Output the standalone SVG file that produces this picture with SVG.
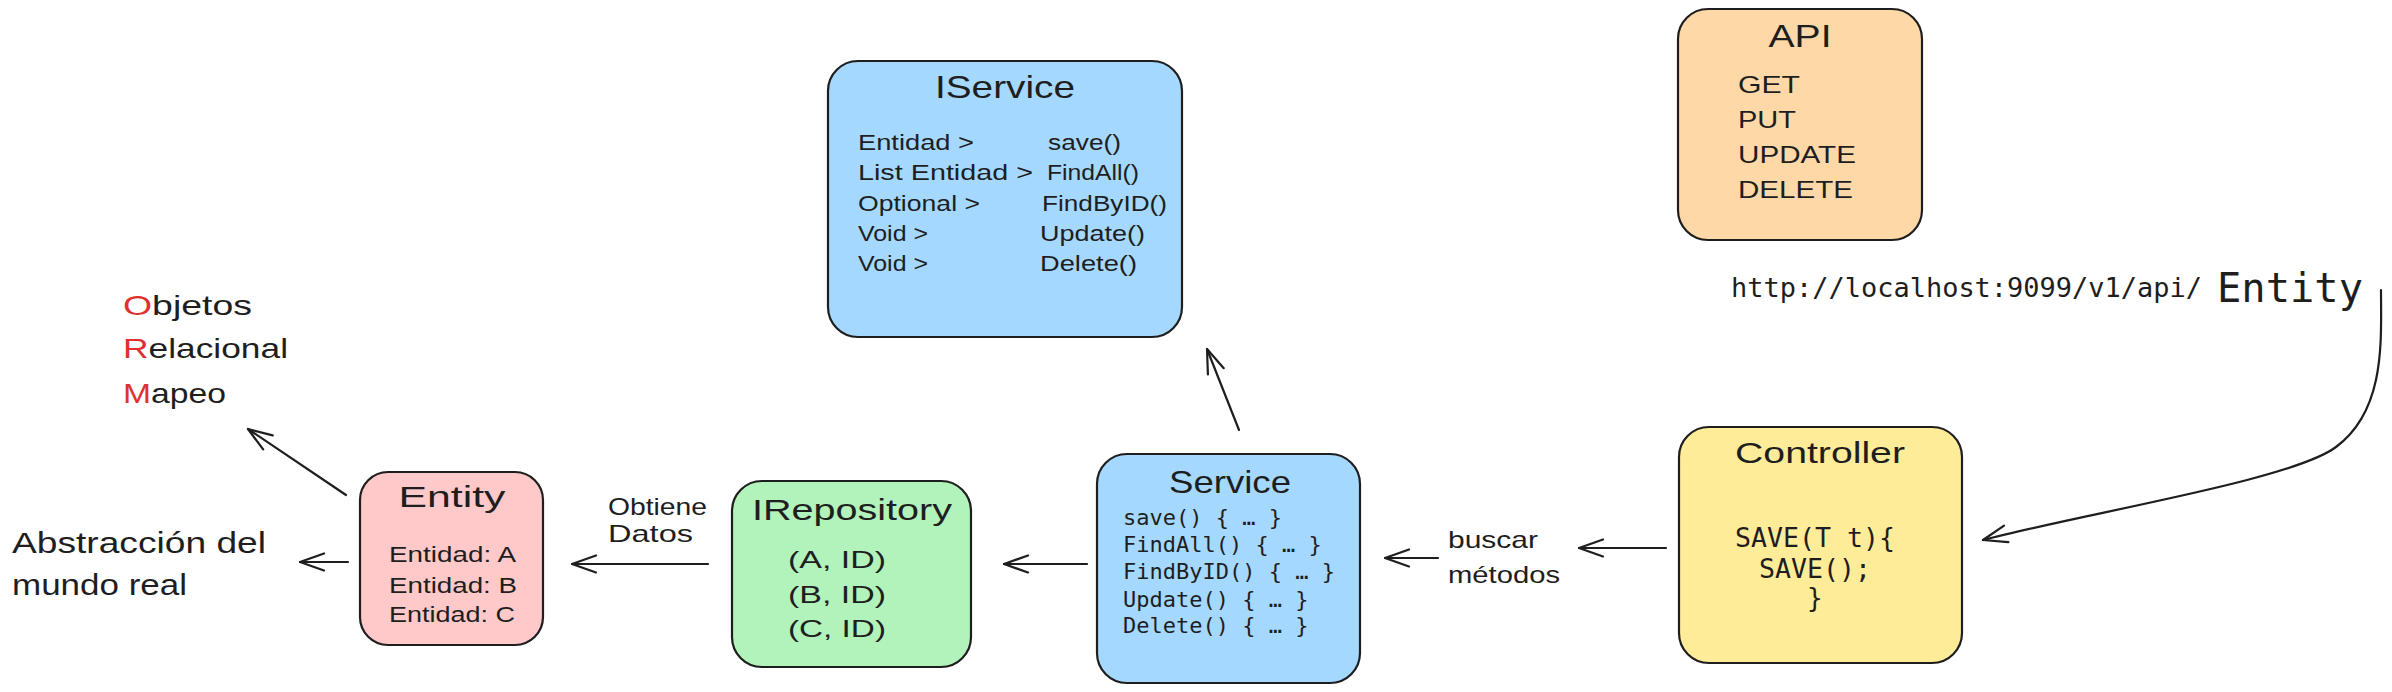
<svg xmlns="http://www.w3.org/2000/svg" width="2392" height="692" viewBox="0 0 2392 692">
<style>
.box{stroke:#1e1e1e;stroke-width:2.2}
.h{font-family:"Liberation Sans","DejaVu Sans",sans-serif;fill:#1e1e1e}
.m{font-family:"DejaVu Sans Mono","Liberation Mono",monospace;fill:#1e1e1e}
.red{fill:#e03131}
.c{stroke:#1e1e1e;stroke-width:2.2;fill:none;stroke-linecap:round;marker-end:url(#ah)}
</style>
<defs>
<marker id="ah" markerUnits="userSpaceOnUse" viewBox="0 0 28 20" refX="25" refY="10" markerWidth="28" markerHeight="20" orient="auto" overflow="visible">
<path d="M1,1.5 L25,10 L1,18.5" fill="none" stroke="#1e1e1e" stroke-width="2.2" stroke-linecap="round" stroke-linejoin="round"/>
</marker>
</defs>
<rect width="2392" height="692" fill="#ffffff"/>

<g id="connectors">
<path class="c" d="M2381,290 C2381,340 2386,410 2336,447 C2292,480 2090,512 1983,540"/>
<path class="c" d="M1666,548 L1579,548"/>
<path class="c" d="M1438,558 L1385,558"/>
<path class="c" d="M1239,430 L1207,349"/>
<path class="c" d="M1087,564 L1004,564"/>
<path class="c" d="M708,564 L572,564"/>
<path class="c" d="M346,495 L248,429"/>
<path class="c" d="M348,562 L300,562"/>
</g>

<g id="iservice">
<rect class="box" x="828" y="61" width="354" height="276" rx="30" fill="#a5d8ff"/>
<text class="h" x="1005" y="98" font-size="32" text-anchor="middle" textLength="140" lengthAdjust="spacingAndGlyphs">IService</text>
<g font-size="22">
<text class="h" x="858" y="150" textLength="116" lengthAdjust="spacingAndGlyphs">Entidad &gt;</text>
<text class="h" x="858" y="180" textLength="175" lengthAdjust="spacingAndGlyphs">List Entidad &gt;</text>
<text class="h" x="858" y="211" textLength="122" lengthAdjust="spacingAndGlyphs">Optional &gt;</text>
<text class="h" x="858" y="241" textLength="70" lengthAdjust="spacingAndGlyphs">Void &gt;</text>
<text class="h" x="858" y="271" textLength="70" lengthAdjust="spacingAndGlyphs">Void &gt;</text>
<text class="h" x="1048" y="150" textLength="73" lengthAdjust="spacingAndGlyphs">save()</text>
<text class="h" x="1047" y="180" textLength="92" lengthAdjust="spacingAndGlyphs">FindAll()</text>
<text class="h" x="1042" y="211" textLength="125" lengthAdjust="spacingAndGlyphs">FindByID()</text>
<text class="h" x="1040" y="241" textLength="105" lengthAdjust="spacingAndGlyphs">Update()</text>
<text class="h" x="1040" y="271" textLength="97" lengthAdjust="spacingAndGlyphs">Delete()</text>
</g>
</g>

<g id="api">
<rect class="box" x="1678" y="9" width="244" height="231" rx="30" fill="#ffd8a8"/>
<text class="h" x="1800" y="47" font-size="32" text-anchor="middle" textLength="63" lengthAdjust="spacingAndGlyphs">API</text>
<g font-size="24">
<text class="h" x="1738" y="93" textLength="62" lengthAdjust="spacingAndGlyphs">GET</text>
<text class="h" x="1738" y="128" textLength="58" lengthAdjust="spacingAndGlyphs">PUT</text>
<text class="h" x="1738" y="163" textLength="118" lengthAdjust="spacingAndGlyphs">UPDATE</text>
<text class="h" x="1738" y="198" textLength="115" lengthAdjust="spacingAndGlyphs">DELETE</text>
</g>
</g>

<g id="url">
<text class="m" x="1731" y="297" font-size="27" textLength="471" lengthAdjust="spacingAndGlyphs">http://localhost:9099/v1/api/</text>
<text class="m" x="2217" y="302" font-size="40.5" textLength="146" lengthAdjust="spacingAndGlyphs">Entity</text>
</g>

<g id="controller">
<rect class="box" x="1679" y="427" width="283" height="236" rx="30" fill="#ffec99"/>
<text class="h" x="1820" y="463" font-size="30" text-anchor="middle" textLength="170" lengthAdjust="spacingAndGlyphs">Controller</text>
<g font-size="26">
<text class="m" x="1735" y="547" textLength="160" lengthAdjust="spacingAndGlyphs">SAVE(T t){</text>
<text class="m" x="1759" y="578" textLength="112" lengthAdjust="spacingAndGlyphs">SAVE();</text>
<text class="m" x="1807" y="607">}</text>
</g>
</g>

<g id="buscar">
<text class="h" x="1448" y="548" font-size="24" textLength="90" lengthAdjust="spacingAndGlyphs">buscar</text>
<text class="h" x="1448" y="583" font-size="24" textLength="112" lengthAdjust="spacingAndGlyphs">métodos</text>
</g>

<g id="service">
<rect class="box" x="1097" y="454" width="263" height="229" rx="30" fill="#a5d8ff"/>
<text class="h" x="1230" y="493" font-size="32" text-anchor="middle" textLength="122" lengthAdjust="spacingAndGlyphs">Service</text>
<g font-size="22">
<text class="m" x="1123" y="525">save() { … }</text>
<text class="m" x="1123" y="552">FindAll() { … }</text>
<text class="m" x="1123" y="579">FindByID() { … }</text>
<text class="m" x="1123" y="607">Update() { … }</text>
<text class="m" x="1123" y="633">Delete() { … }</text>
</g>
</g>

<g id="irepository">
<rect class="box" x="732" y="481" width="239" height="186" rx="30" fill="#b2f2bb"/>
<text class="h" x="852" y="520" font-size="30" text-anchor="middle" textLength="200" lengthAdjust="spacingAndGlyphs">IRepository</text>
<g font-size="24">
<text class="h" x="788" y="568" textLength="98" lengthAdjust="spacingAndGlyphs">(A, ID)</text>
<text class="h" x="788" y="603" textLength="98" lengthAdjust="spacingAndGlyphs">(B, ID)</text>
<text class="h" x="788" y="637" textLength="98" lengthAdjust="spacingAndGlyphs">(C, ID)</text>
</g>
</g>

<g id="obtiene">
<text class="h" x="608" y="515" font-size="24" textLength="99" lengthAdjust="spacingAndGlyphs">Obtiene</text>
<text class="h" x="608" y="542" font-size="24" textLength="85" lengthAdjust="spacingAndGlyphs">Datos</text>
</g>

<g id="entity">
<rect class="box" x="360" y="472" width="183" height="173" rx="28" fill="#ffc9c9"/>
<text class="h" x="452" y="507" font-size="30" text-anchor="middle" textLength="107" lengthAdjust="spacingAndGlyphs">Entity</text>
<g font-size="22">
<text class="h" x="389" y="562" textLength="127" lengthAdjust="spacingAndGlyphs">Entidad: A</text>
<text class="h" x="389" y="593" textLength="128" lengthAdjust="spacingAndGlyphs">Entidad: B</text>
<text class="h" x="389" y="622" textLength="126" lengthAdjust="spacingAndGlyphs">Entidad: C</text>
</g>
</g>

<g id="orm">
<text class="h" x="123" y="315" font-size="28" textLength="129" lengthAdjust="spacingAndGlyphs"><tspan class="red">O</tspan>bjetos</text>
<text class="h" x="123" y="358" font-size="28" textLength="165" lengthAdjust="spacingAndGlyphs"><tspan class="red">R</tspan>elacional</text>
<text class="h" x="123" y="403" font-size="28" textLength="103" lengthAdjust="spacingAndGlyphs"><tspan class="red">M</tspan>apeo</text>
</g>

<g id="abstraccion">
<text class="h" x="12" y="553" font-size="30" textLength="254" lengthAdjust="spacingAndGlyphs">Abstracción del</text>
<text class="h" x="12" y="595" font-size="30" textLength="175" lengthAdjust="spacingAndGlyphs">mundo real</text>
</g>
</svg>
